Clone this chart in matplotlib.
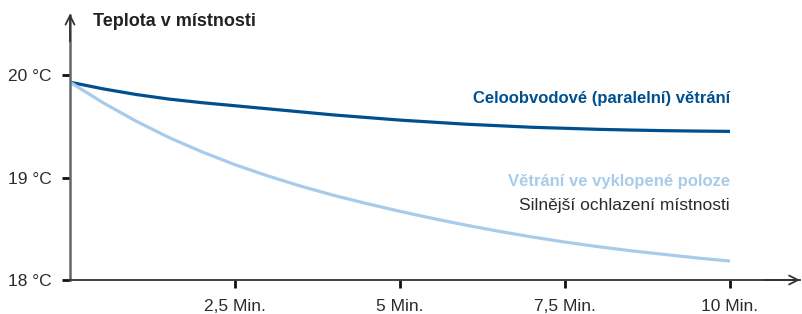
import matplotlib.pyplot as plt

plt.rcParams['font.family'] = ['Liberation Sans', 'DejaVu Sans']

# (minutes, degrees C)
minuty = [0, 0.5, 1, 1.5, 2, 2.5, 3, 3.5, 4, 4.5, 5, 5.5, 6, 6.5, 7, 7.5, 8, 8.5, 9, 9.5, 10]
paralelni = [19.93, 19.865, 19.81, 19.765, 19.73, 19.70, 19.67, 19.64, 19.61, 19.585, 19.56,
             19.54, 19.52, 19.505, 19.49, 19.48, 19.47, 19.463, 19.457, 19.453, 19.45]
vyklopene = [19.93, 19.73, 19.55, 19.39, 19.25, 19.125, 19.015, 18.915, 18.825, 18.745, 18.67,
             18.60, 18.535, 18.475, 18.42, 18.37, 18.325, 18.285, 18.25, 18.215, 18.185]

x_ticks = [2.5, 5, 7.5, 10]
x_labels = ['2,5 Min.', '5 Min.', '7,5 Min.', '10 Min.']
y_ticks = [18, 19, 20]
y_labels = ['18 °C', '19 °C', '20 °C']

tmava = '#00508f'
svetla = '#a9cbea'
text_c = '#2b2b2b'

fig = plt.figure(figsize=(8.02, 3.14), dpi=100)
ax = fig.add_axes([70 / 802, 34 / 314, 730 / 802, 265 / 314])

ax.plot(minuty, paralelni, color=tmava, lw=2.3, solid_capstyle='butt', solid_joinstyle='round')
ax.plot(minuty, vyklopene, color=svetla, lw=2.3, solid_capstyle='butt', solid_joinstyle='round')

ax.set_xlim(0, 730 / 66)
ax.set_ylim(18, 18 + 265 / 102.5)

for s in ['top', 'right']:
    ax.spines[s].set_visible(False)
ax.spines['left'].set_color('#666666')
ax.spines['left'].set_linewidth(1.8)
ax.spines['bottom'].set_color('#333333')
ax.spines['bottom'].set_linewidth(1.3)

ax.set_xticks(x_ticks)
ax.set_xticklabels(x_labels)
ax.set_yticks(y_ticks)
ax.set_yticklabels(y_labels)
ax.tick_params(axis='y', direction='out', length=6, width=2, color='#111111',
               labelsize=12.5, labelcolor=text_c, pad=7)
ax.tick_params(axis='x', direction='out', length=6, width=2, color='#111111',
               labelsize=12.5, labelcolor=text_c, pad=8)

# arrow heads
ax.annotate('', xy=(0, 1.005), xytext=(0, 0.9), xycoords='axes fraction',
            arrowprops=dict(arrowstyle='->', color='#333333', lw=1.3,
                            mutation_scale=16, shrinkA=0, shrinkB=0))
ax.annotate('', xy=(1.0, 0), xytext=(0.95, 0), xycoords='axes fraction',
            arrowprops=dict(arrowstyle='->', color='#333333', lw=1.3,
                            mutation_scale=16, shrinkA=0, shrinkB=0))

fig.text(93 / 802, 1 - 21 / 314, 'Teplota v místnosti', fontsize=13, fontweight='bold',
         color='#222222', va='center', ha='left')

ax.text(10, 19.77, 'Celoobvodové (paralelní) větrání', color=tmava, fontsize=12,
        fontweight='bold', ha='right', va='center')
ax.text(10, 18.96, 'Větrání ve vyklopené poloze', color=svetla, fontsize=12,
        fontweight='bold', ha='right', va='center')
ax.text(10, 18.73, 'Silnější ochlazení místnosti', color=text_c, fontsize=12.5,
        ha='right', va='center')

fig.savefig('out.png', dpi=100)
